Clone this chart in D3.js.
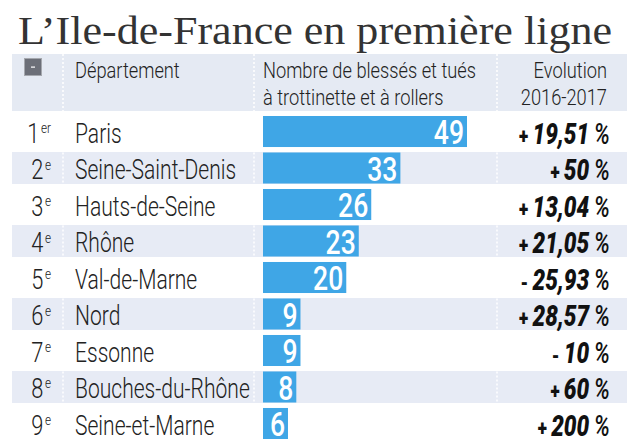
<!DOCTYPE html>
<html><head><meta charset="utf-8">
<script src="https://cdn.jsdelivr.net/npm/d3@7"></script>
<style>
html,body{margin:0;padding:0;background:#fff;}
svg{display:block;}
</style></head>
<body>
<svg id="chart" width="635" height="443"></svg>
<script>
const title = "L\u2019Ile-de-France en premi\u00e8re ligne";
const headers = ["D\u00e9partement", "Nombre de bless\u00e9s et tu\u00e9s", "\u00e0 trottinette et \u00e0 rollers", "Evolution", "2016-2017"];
const ranks = ["1", "2", "3", "4", "5", "6", "7", "8", "9"];
const rankSuffixes = ["er", "e", "e", "e", "e", "e", "e", "e", "e"];
const departements = ["Paris", "Seine-Saint-Denis", "Hauts-de-Seine", "Rh\u00f4ne", "Val-de-Marne", "Nord", "Essonne", "Bouches-du-Rh\u00f4ne", "Seine-et-Marne"];
const victims = [49, 33, 26, 23, 20, 9, 9, 8, 6];
const evolution = [19.51, 50, 13.04, 21.05, -25.93, 28.57, -10, 60, 200];

const svg = d3.select("#chart");
const SX = 0.78; // horizontal condensing for the sans font
const FONT = "Roboto, 'Noto Sans', sans-serif";

function ctext(parent, x, y, sx) {
  return parent.append("g")
    .attr("transform", `translate(${x},${y}) scale(${sx},1)`)
    .append("text").attr("font-family", FONT);
}

// Title
svg.append("text")
  .attr("x", 18).attr("y", 44)
  .attr("font-family", "'Liberation Serif', 'DejaVu Serif', serif")
  .attr("font-size", 40)
  .attr("fill", "#333")
  .attr("textLength", 594)
  .attr("lengthAdjust", "spacingAndGlyphs")
  .text(title);

// Header band
svg.append("rect").attr("x", 12).attr("y", 54).attr("width", 615).attr("height", 57).attr("fill", "#e5eaf3");

const y = d3.scaleBand().domain(departements).range([116, 439]).paddingInner(0.15).paddingOuter(0);
const x = d3.scaleLinear().domain([0, 49]).range([263, 467]);

// Stripes
svg.selectAll("rect.stripe")
  .data(departements.filter((d, i) => i % 2 === 1))
  .join("rect").attr("class", "stripe")
  .attr("x", 12).attr("width", 615)
  .attr("y", d => y(d) - 0.5).attr("height", y.bandwidth() + 1)
  .attr("fill", "#e7ebf5");

// Dotted dividers
const dividers = [63, 254, 497];
dividers.forEach(dx => {
  svg.append("line").attr("x1", dx).attr("x2", dx).attr("y1", 54).attr("y2", 111)
    .attr("stroke", "#fff").attr("stroke-width", 1.5).attr("stroke-dasharray", "2,2");
  departements.forEach((d, i) => {
    if (i % 2 === 1) {
      svg.append("line").attr("x1", dx).attr("x2", dx).attr("y1", y(d)).attr("y2", y(d) + y.bandwidth())
        .attr("stroke", "#fff").attr("stroke-width", 1.5).attr("stroke-dasharray", "2,2");
    }
  });
});

// Collapse button
svg.append("rect").attr("x", 24.5).attr("y", 58.5).attr("width", 17).attr("height", 17)
  .attr("fill", "#6c6f78").attr("stroke", "#a5a8ae").attr("stroke-width", 1);
svg.append("rect").attr("x", 31).attr("y", 66.5).attr("width", 4).attr("height", 1.2).attr("fill", "#fff");

// Header texts
const hsize = 22;
const HX = 0.83;
ctext(svg, 75, 78, HX).attr("font-size", hsize).attr("font-weight", 300).attr("fill", "#222").text(headers[0]);
ctext(svg, 263, 78, HX).attr("font-size", hsize).attr("font-weight", 300).attr("fill", "#222").text(headers[1]);
ctext(svg, 263, 105, HX).attr("font-size", hsize).attr("font-weight", 300).attr("fill", "#222").text(headers[2]);
ctext(svg, 607, 78, HX).attr("font-size", hsize).attr("font-weight", 300).attr("fill", "#222").attr("text-anchor", "end").text(headers[3]);
ctext(svg, 607, 105, HX).attr("font-size", hsize).attr("font-weight", 300).attr("fill", "#222").attr("text-anchor", "end").text(headers[4]);

// Rows
departements.forEach((d, i) => {
  const top = y(d);
  const base = top + 27;
  // rank
  const rt = ctext(svg, 51, base, SX).attr("text-anchor", "end").attr("fill", "#222").attr("font-weight", 300);
  rt.append("tspan").attr("font-size", 28).text(ranks[i]);
  rt.append("tspan").attr("font-size", 15).attr("dy", -10).attr("dx", 2).text(rankSuffixes[i]);
  // name
  ctext(svg, 75, base, SX).attr("font-size", 27).attr("font-weight", 300).attr("fill", "#222").text(d);
  // bar
  svg.append("rect").attr("x", x(0)).attr("y", top).attr("width", x(victims[i]) - x(0)).attr("height", y.bandwidth())
    .attr("fill", "#3fa6e6");
  ctext(svg, x(victims[i]) - 3, top + y.bandwidth() - 3, 0.78)
    .attr("text-anchor", "end").attr("font-size", 34).attr("font-weight", 500).attr("fill", "#fff")
    .text(victims[i]);
  // evolution
  const v = evolution[i];
  const et = ctext(svg, 610, base + 1, 0.78).attr("text-anchor", "end").attr("fill", "#111");
  et.append("tspan").attr("font-size", 22).attr("font-weight", 900).text(v < 0 ? "- " : "+ ");
  et.append("tspan").attr("font-size", 29).attr("font-weight", 900).attr("font-style", "italic")
    .text(String(Math.abs(v)).replace(".", ",") + "\u2009");
  et.append("tspan").attr("font-size", 29).attr("font-weight", 500).attr("font-style", "italic").text("%");
});
</script>
</body></html>
